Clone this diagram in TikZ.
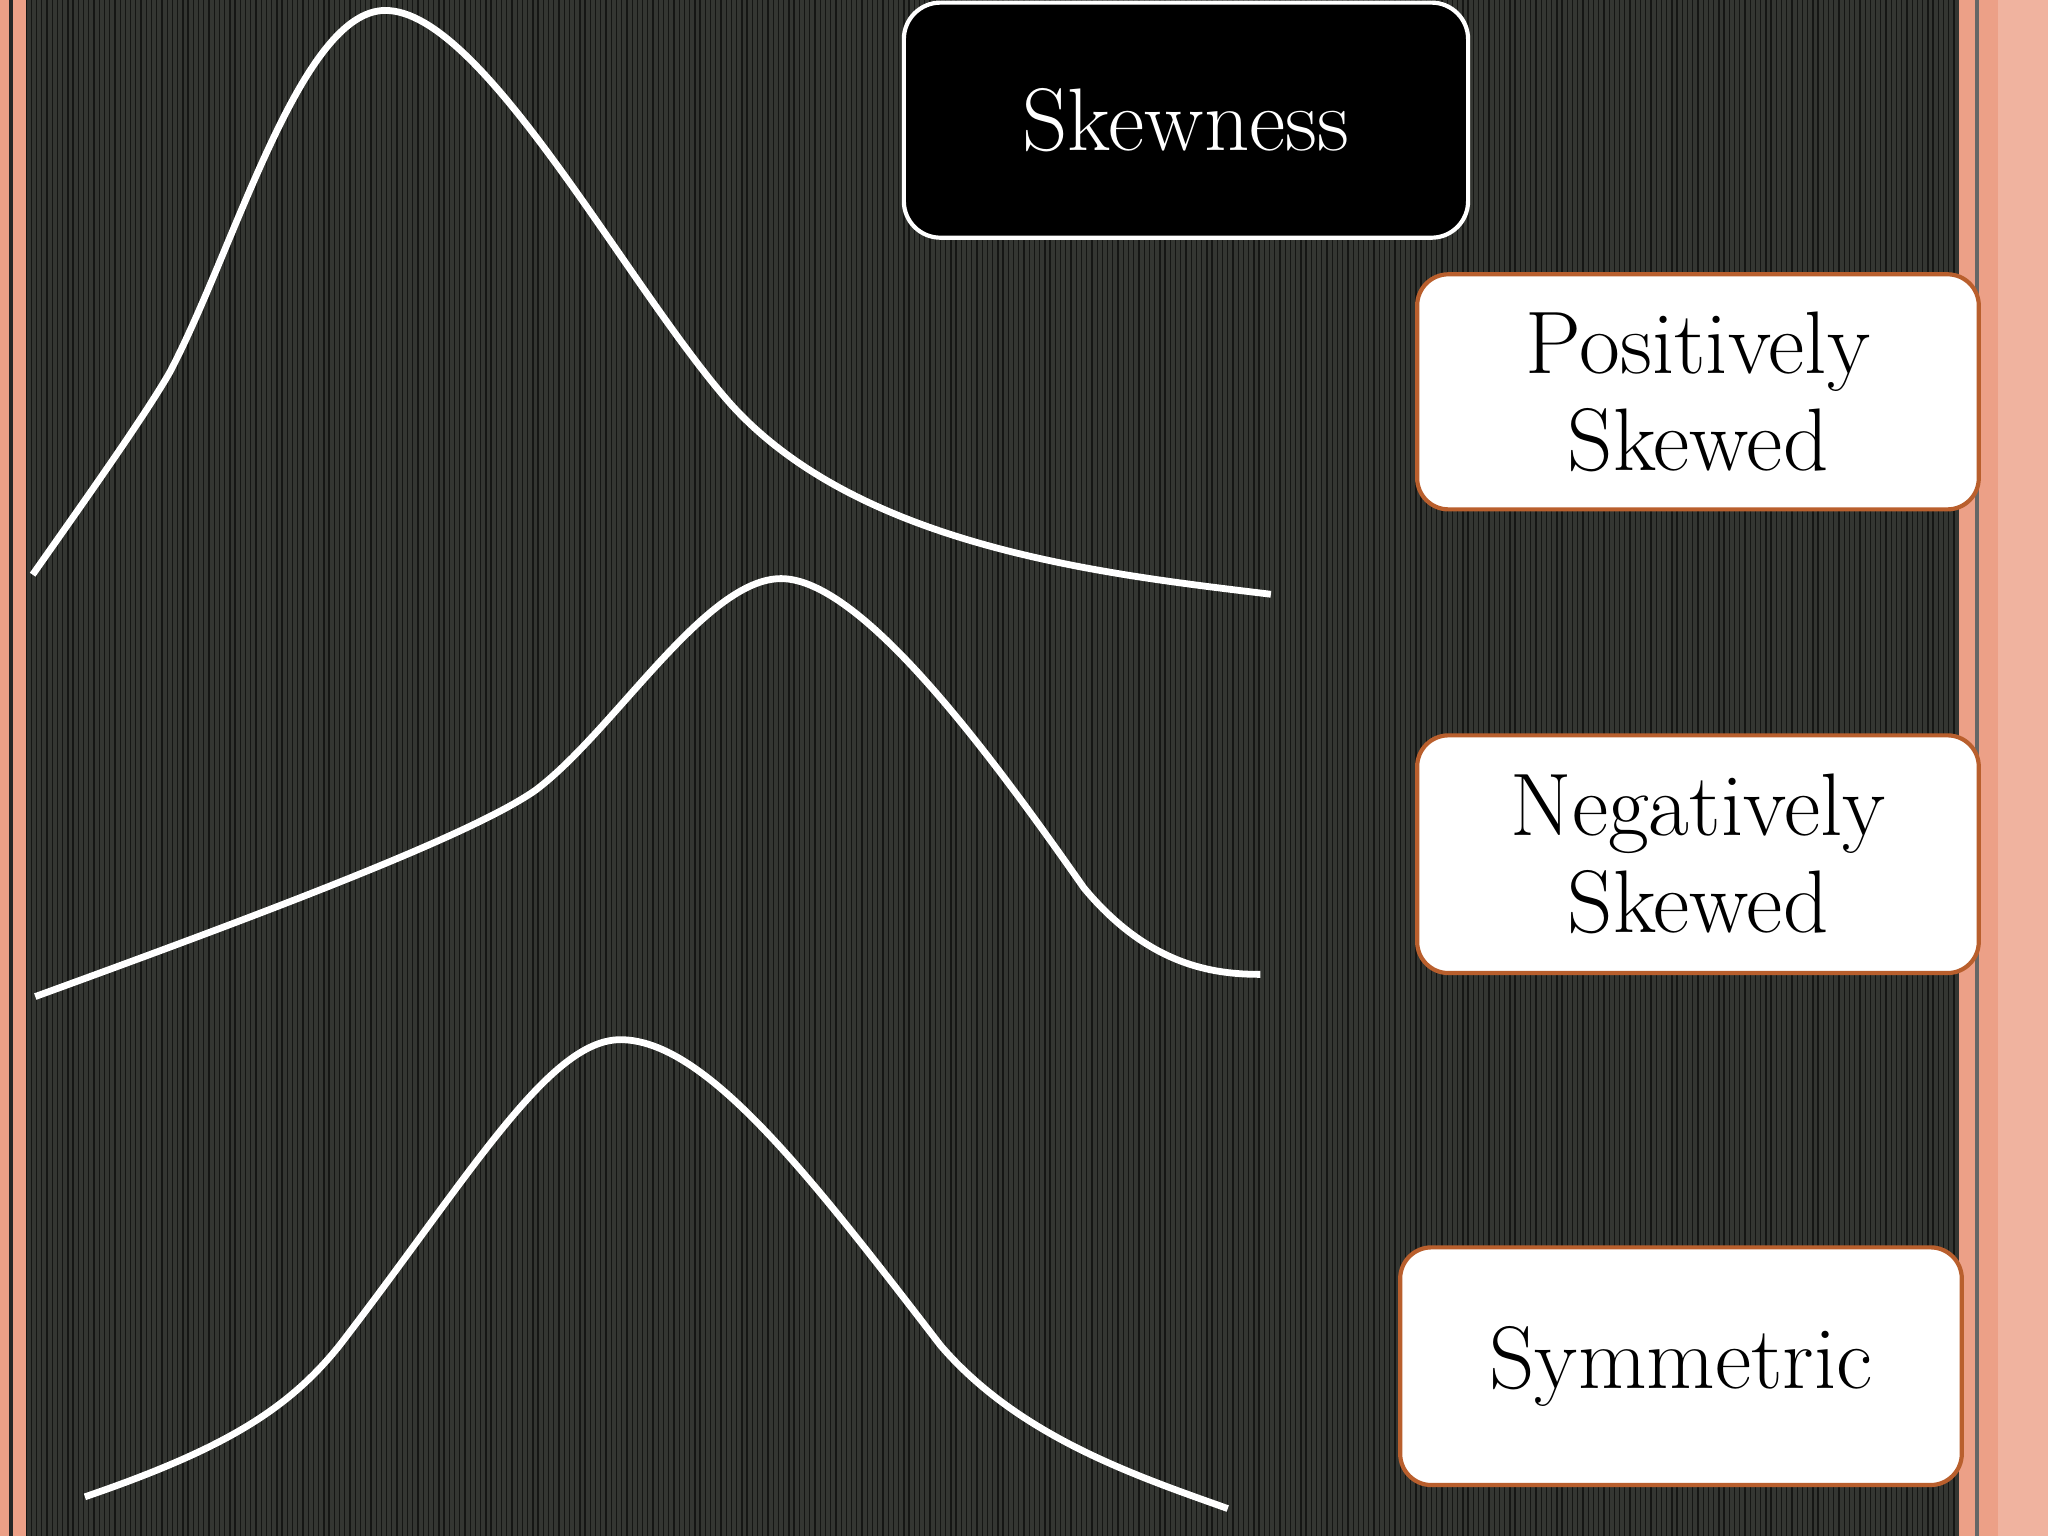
\documentclass[tikz,border=0pt]{standalone}
\begin{document}
\begin{tikzpicture}[x=0.5pt,y=-0.5pt,
  curve/.style={white,line width=2.6pt,line cap=butt},
  lbl/.style={draw={rgb,255:red,185;green,95;blue,45},fill=white,line width=1.6pt,rounded corners=12pt,align=center,font=\fontsize{34}{37}\selectfont,text=black,inner sep=0pt},
]
\definecolor{bg}{RGB}{52,54,50}
\definecolor{salmon}{RGB}{236,160,135}
\useasboundingbox (0,0) rectangle (1568,1176);
\fill[bg] (0,0) rectangle (1568,1176);
\foreach \i in {0,...,390} {\draw[black!60!bg,line width=0.5pt] ({20+\i*4},0) -- ({20+\i*4},1176);}
% borders
\fill[salmon] (0,0) rectangle (20,1176);
\fill[black!85] (7,0) rectangle (10,1176);
\fill[salmon] (1500,0) rectangle (1568,1176);
\fill[black!60] (1512,0) rectangle (1515,1176);
\fill[salmon!80] (1530,0) rectangle (1568,1176);
% curves
\draw[curve] (25,440) .. controls (60,390) and (110,320) .. (130,285) .. controls (180,190) and (230,8) .. (295,8) .. controls (370,8) and (480,220) .. (560,310) .. controls (660,420) and (850,440) .. (973,455);
\draw[curve] (27,763) .. controls (200,700) and (360,640) .. (410,605) .. controls (470,560) and (540,443) .. (598,443) .. controls (660,443) and (760,580) .. (830,680) .. controls (880,740) and (930,746) .. (965,746);
\draw[curve] (65,1146) .. controls (170,1110) and (220,1080) .. (260,1030) .. controls (360,900) and (420,796) .. (475,796) .. controls (540,796) and (620,900) .. (720,1030) .. controls (780,1100) and (870,1130) .. (940,1155);
% boxes
\node[draw=white,fill=black,line width=1.6pt,rounded corners=14pt,minimum width=216pt,minimum height=90pt,text=white,font=\fontsize{34}{37}\selectfont,inner sep=0pt] (sk) at (908,92) {Skewness};
\node[lbl,minimum width=215pt,minimum height=90pt] (pos) at (1300,300) {Positively\\Skewed};
\node[lbl,minimum width=215pt,minimum height=91pt] (neg) at (1300,654) {Negatively\\Skewed};
\node[lbl,minimum width=215pt,minimum height=91pt] (sym) at (1287,1046) {Symmetric};
\end{tikzpicture}
\end{document}
